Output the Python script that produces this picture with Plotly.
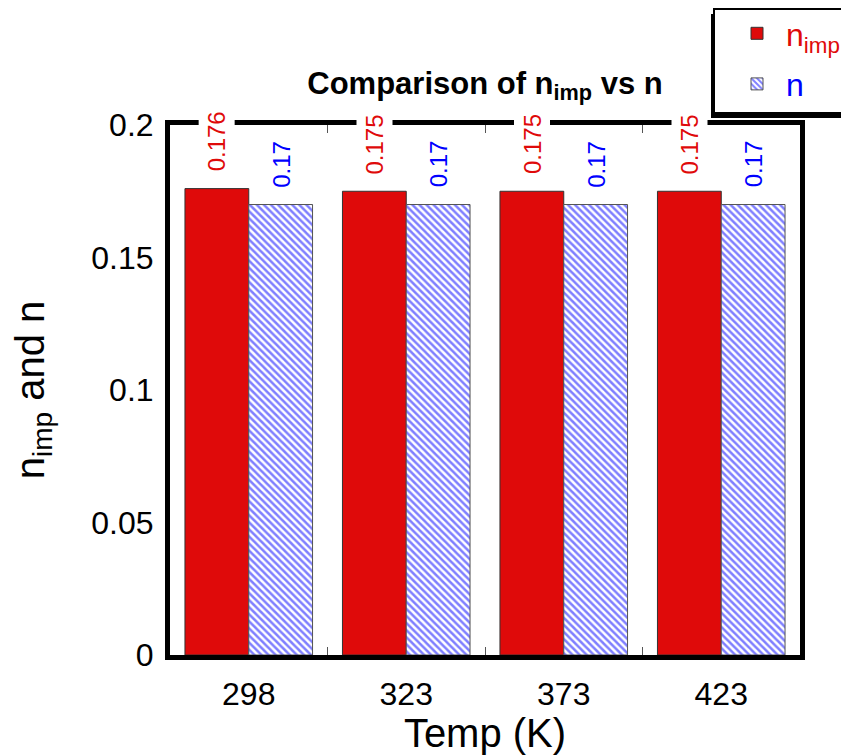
import plotly.graph_objects as go

# data
temps = ["298", "323", "373", "423"]
n_imp = [0.176, 0.175, 0.175, 0.175]
n_val = [0.17, 0.17, 0.17, 0.17]

RED = "#df0a0a"
BLUE = "#0000ff"
FONT = "Liberation Sans, Arial, sans-serif"

# the page body adds an 8px margin round the figure
OFF = 8
W, H = 849 - OFF, 755 - OFF
L, R, T, B = 170 - OFF, 49, 125 - OFF, 100


def px_x(p):
    # window pixel -> paper x
    return (p - OFF - L) / (W - L - R)


def px_y(p):
    # window pixel -> paper y
    return (H - B - (p - OFF)) / (H - T - B)


fig = go.Figure()

fig.add_trace(go.Bar(
    x=temps, y=n_imp,
    name="<span style='color:%s'>n<sub>imp</sub></span>" % RED,
    marker=dict(color=RED, line=dict(color="#333333", width=1)),
    legendgroup="a",
))
fig.add_trace(go.Bar(
    x=temps, y=n_val,
    name="<span style='color:%s'>n</span>" % BLUE,
    marker=dict(color="white", line=dict(color="#555555", width=1),
                pattern=dict(shape="\\", fgcolor=BLUE, bgcolor="white",
                             size=5, solidity=0.5)),
    legendgroup="b",
))

# value labels above the bars
annotations = []
for i, v in enumerate(n_imp):
    annotations.append(dict(x=i, y=v, xref="x", yref="y", text=str(v),
                            showarrow=False, textangle=-90, xshift=-32, yshift=12,
                            yanchor="bottom", bgcolor="white", borderpad=4,
                            font=dict(size=24, color=RED, family=FONT)))
for i, v in enumerate(n_val):
    annotations.append(dict(x=i, y=v, xref="x", yref="y", text=str(v),
                            showarrow=False, textangle=-90, xshift=32, yshift=12,
                            yanchor="bottom", bgcolor="white", borderpad=4,
                            font=dict(size=24, color=BLUE, family=FONT)))

# legend box with drop shadow
shapes = [
    dict(type="rect", xref="paper", yref="paper",
         x0=px_x(711), x1=px_x(870), y0=px_y(118), y1=px_y(14),
         fillcolor="black", line=dict(width=0), layer="above"),
    dict(type="rect", xref="paper", yref="paper",
         x0=px_x(714), x1=px_x(870), y0=px_y(113), y1=px_y(9),
         fillcolor="white", line=dict(color="black", width=2), layer="above"),
]

fig.update_layout(
    width=W, height=H,
    margin=dict(l=L, r=R, t=T, b=B, autoexpand=False),
    paper_bgcolor="white", plot_bgcolor="white",
    font=dict(family=FONT, color="black"),
    barmode="group", bargap=0.19, bargroupgap=0,
    title=dict(text="<b>Comparison of n<sub>imp</sub> vs n</b>",
               x=px_x(485), xref="paper", xanchor="center",
               y=1 - (83 - OFF) / H, yanchor="middle",
               font=dict(size=31, color="black", family=FONT)),
    legend=dict(x=px_x(728), y=px_y(6), xanchor="left", yanchor="top",
                bgcolor="rgba(0,0,0,0)", borderwidth=0,
                font=dict(size=32, family=FONT), itemwidth=48,
                traceorder="grouped", tracegroupgap=6),
    annotations=annotations,
    shapes=shapes,
    showlegend=True,
)

fig.update_xaxes(
    type="category", range=[-0.5, 3.5],
    showline=True, linewidth=5, linecolor="black", mirror="ticks",
    tickson="boundaries", ticks="inside", ticklen=8, tickwidth=1, tickcolor="#555555",
    showgrid=False, ticklabelstandoff=7,
    tickfont=dict(size=32, family=FONT),
    title=dict(text="Temp (K)", font=dict(size=40, family=FONT), standoff=3),
)
fig.update_yaxes(
    range=[0, 0.2], dtick=0.05,
    showline=True, linewidth=5, linecolor="black", mirror=True,
    ticks="", showgrid=False, zeroline=False, ticklabelstandoff=5,
    tickfont=dict(size=32, family=FONT),
    title=dict(text="n<sub>imp</sub> and n", font=dict(size=40, family=FONT), standoff=50),
)

fig.write_html("out.html")
